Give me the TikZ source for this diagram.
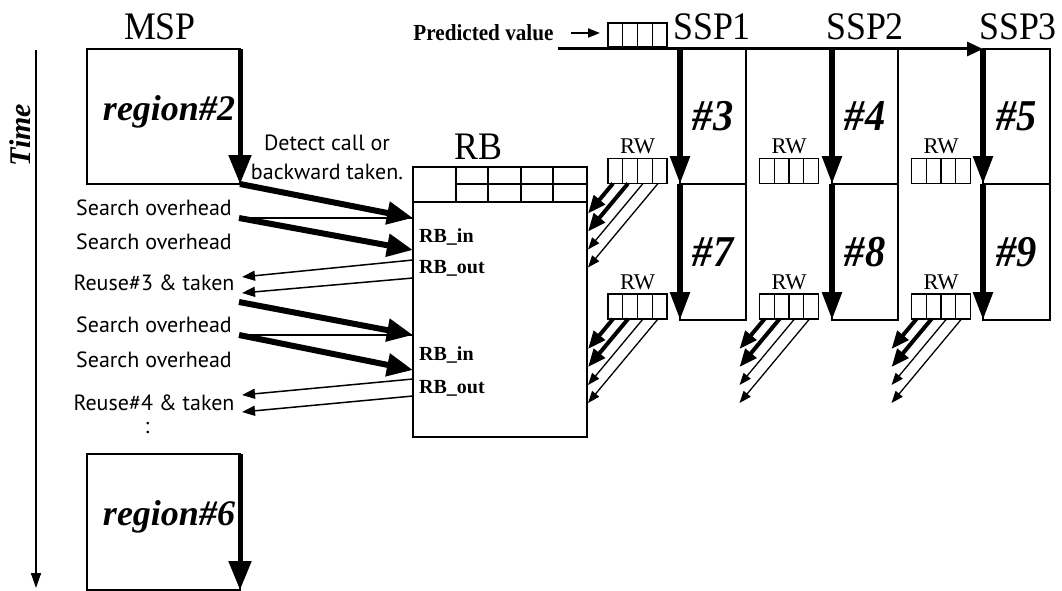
\documentclass[tikz,border=0pt]{standalone}
\usepackage{fontspec}
\setmainfont{Liberation Serif}
\newfontfamily\sansf{PT Sans}
\newfontfamily\condf[FakeStretch=0.92]{Liberation Serif}
\usetikzlibrary{arrows.meta,calc}

\tikzset{
  box/.style={draw, line width=1.5, inner sep=0, outer sep=0, anchor=north west},
  title/.style={font=\condf\fontsize{39}{41}\selectfont},
  regiontext/.style={font=\bfseries\itshape\fontsize{36}{40}\selectfont},
  numtext/.style={font=\condf\bfseries\itshape\fontsize{44}{48}\selectfont},
  timetext/.style={font=\bfseries\itshape\fontsize{30}{32}\selectfont},
  pvtext/.style={font=\condf\bfseries\fontsize{23}{25}\selectfont},
  rbtext/.style={font=\bfseries\fontsize{20}{22}\selectfont, anchor=west, inner sep=0},
  sanstext/.style={font=\sansf\fontsize{22}{29}\selectfont},
  rwlab/.style={font=\fontsize{22.5}{24}\selectfont, inner sep=4pt},
  regcells/.style={draw, line width=1.2, minimum width=59, minimum height=25, inner sep=0, outer sep=0,
    path picture={
      \foreach \c in {1,2,3}
        \draw[line width=1.2]
          ($(path picture bounding box.south west)!\c/4!(path picture bounding box.south east)$) --
          ($(path picture bounding box.north west)!\c/4!(path picture bounding box.north east)$);
    }},
  rw/.style={regcells, label={[rwlab]above:RW}},
  mainarrow/.style={line width=5, -{Triangle[length=29pt,width=22pt]}},
  ssparrow/.style={line width=5.5, -{Triangle[length=28pt,width=19pt]}},
  inarrow/.style={line width=6, -{Triangle[length=26pt,width=22pt]}},
  outarrow/.style={line width=1.5, -{Triangle[length=13pt,width=10pt]}},
  fanthick/.style={line width=4, -{Triangle[length=18pt,width=14pt]}},
  fanthin/.style={line width=1.3, -{Triangle[length=12pt,width=9pt]}},
  thinline/.style={line width=1.3},
}

% four parallel write-back arrows leaving the bottom of a register
\newcommand\rwfan[1]{%
  \foreach \i in {0,1,2,3}{
    \pgfmathsetmacro\k{25+15*\i}
    \coordinate (#1-s\i) at ($(#1.south west)+(5+15*\i,0)$);
    \coordinate (#1-e\i) at ($(#1.south west)+(-20,1.2*\k)$);
  }
  \foreach \i in {2,3}{\draw[fanthin] (#1-s\i) -- (#1-e\i);}
  \foreach \i in {0,1}{\draw[fanthick] (#1-s\i) -- (#1-e\i);}
}

\begin{document}
\begin{tikzpicture}[x=1pt,y=-1pt]
\useasboundingbox (0,0) rectangle (1062,591);

% ---------- time axis ----------
\coordinate (t0) at (36,50);
\coordinate (t1) at (36,588);
\draw[line width=1.5, -{Triangle[length=15pt,width=10pt]}] (t0) -- (t1);
\node[timetext, rotate=90] (time) at (20,135) {Time};

% ---------- main speculative processor ----------
\node[title] (msp) at (160,27) {MSP};
\node[box, minimum width=153, minimum height=135] (r2) at (87,49) {};
\node[regiontext] (r2t) at (169,112) {region\#2};
\draw[mainarrow] (r2.north east) -- (r2.south east);

\node[box, minimum width=153, minimum height=136] (r6) at (87,454) {};
\node[regiontext] (r6t) at (169,517) {region\#6};
\draw[mainarrow] (r6.north east) -- (r6.south east);

% ---------- reuse buffer ----------
\node[title] (rbl) at (478,147) {RB};
\node[box, line width=1.8, minimum width=174, minimum height=270] (rb) at (413,167) {};
\draw[line width=2] ($(rb.north west)+(0,35)$) -- ($(rb.north east)+(0,35)$);
\foreach \x in {43,75,108,140}
  \draw[line width=1.5] ($(rb.north west)+(\x,0)$) -- ++(0,35);
\draw[line width=1.5] ($(rb.north west)+(43,17)$) -- ($(rb.north east)+(0,17)$);

\node[rbtext] (rbin1)  at (419,237) {RB\_in};
\node[rbtext] (rbout1) at (419,268) {RB\_out};
\node[rbtext] (rbin2)  at (419,355) {RB\_in};
\node[rbtext] (rbout2) at (419,388) {RB\_out};

% ---------- MSP <-> RB traffic ----------
\node[sanstext, align=center] (detect) at (327,157) {Detect call or\\backward taken.};
\node[sanstext] (so1) at (154,208) {Search overhead};
\node[sanstext] (so2) at (154,242) {Search overhead};
\node[sanstext] (re3) at (154,283) {Reuse\#3 \& taken};
\node[sanstext] (so3) at (154,325) {Search overhead};
\node[sanstext] (so4) at (154,360) {Search overhead};
\node[sanstext] (re4) at (154,403) {Reuse\#4 \& taken};
\node[sanstext] (dots) at (147,428) {:};

\coordinate (q2) at (239,218);
\coordinate (q3) at (239,302);
\coordinate (q4) at (239,335);
\coordinate (in1) at ($(rb.north west)+(0,51)$);
\coordinate (in2) at ($(rb.north west)+(0,83)$);
\coordinate (in3) at ($(rb.north west)+(0,168)$);
\coordinate (in4) at ($(rb.north west)+(0,203)$);

\draw[thinline] (q2) -- (in1);
\draw[thinline] (q4) -- (in3);
\draw[inarrow] (r2.south east) -- (in1);
\draw[inarrow] (q2) -- (in2);
\draw[inarrow] (q3) -- (in3);
\draw[inarrow] (q4) -- (in4);

\coordinate (o1) at (242,277);
\coordinate (o2) at (242,293);
\coordinate (o3) at (242,395);
\coordinate (o4) at (242,412);
\draw[outarrow] ($(rb.north west)+(0,93)$)  -- (o1);
\draw[outarrow] ($(rb.north west)+(0,111)$) -- (o2);
\draw[outarrow] ($(rb.north west)+(0,212)$) -- (o3);
\draw[outarrow] ($(rb.north west)+(0,229)$) -- (o4);

% ---------- sub speculative processors ----------
\node[title] (ssp1) at (712,27) {SSP1};
\node[title] (ssp2) at (865,27) {SSP2};
\node[title] (ssp3) at (1018,27) {SSP3};

\node[box, numtext, minimum width=66, minimum height=135] (b3) at (680,49) {\#3};
\node[box, numtext, minimum width=66, minimum height=136] (b7) at (680,184) {\#7};
\node[box, numtext, minimum width=66, minimum height=135] (b4) at (832,49) {\#4};
\node[box, numtext, minimum width=66, minimum height=136] (b8) at (832,184) {\#8};
\node[box, numtext, minimum width=67, minimum height=135] (b5) at (983,49) {\#5};
\node[box, numtext, minimum width=67, minimum height=136] (b9) at (983,184) {\#9};

% predicted value fed to the SSPs
\node[pvtext, anchor=east] (pvt) at (557,33) {Predicted value};
\node[regcells, minimum height=24] (pvr) at (637.5,35) {};
\draw[line width=2, -{Triangle[length=12pt,width=9pt]}, shorten <=14pt, shorten >=8pt]
  (pvt.east) -- (pvt.east -| pvr.west);
\coordinate (pv0) at (558,49);
\draw[line width=3, -{Triangle[length=16pt,width=14pt]}] (pv0) -- (b5.north west);

\foreach \b in {b3,b7,b4,b8,b5,b9}
  \draw[ssparrow] (\b.north west) -- (\b.south west);

% register windows
\node[rw] (rw1a) at (637.5,171) {};
\node[rw] (rw2a) at (789,171) {};
\node[rw] (rw3a) at (941,171) {};
\node[rw] (rw1b) at (637.5,306.5) {};
\node[rw] (rw2b) at (789,306.5) {};
\node[rw] (rw3b) at (941,306.5) {};

\rwfan{rw1a}
\rwfan{rw1b}
\rwfan{rw2b}
\rwfan{rw3b}

\end{tikzpicture}
\end{document}
